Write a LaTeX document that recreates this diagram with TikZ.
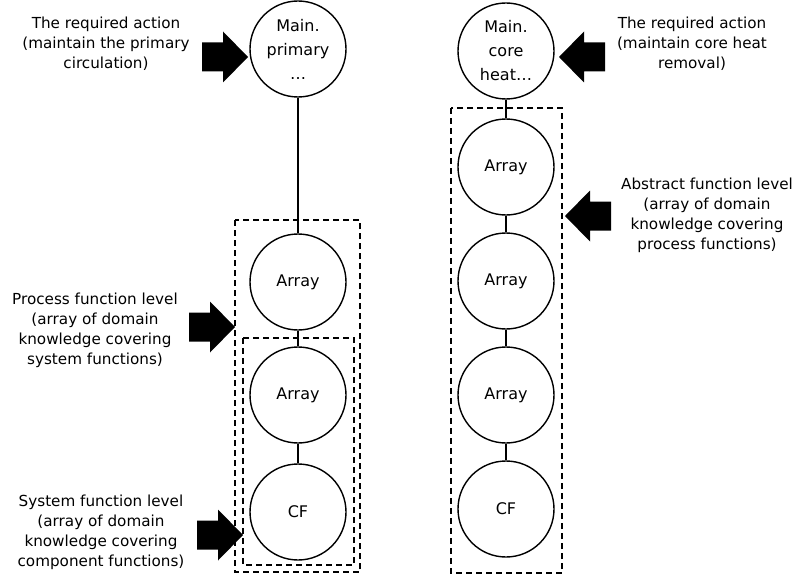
\documentclass[tikz,border=0pt]{standalone}
\usepackage{fontspec}
\setmainfont{DejaVu Sans}
\begin{document}
\begin{tikzpicture}[x=1pt,y=-1pt,
  fn/.style={circle,draw,line width=1.4pt,minimum size=96pt,inner sep=0pt,
             align=center,font=\fontsize{16}{24}\selectfont},
  lbl/.style={align=center,font=\fontsize{15.2}{20}\selectfont},
  level/.style={draw,line width=1.2pt,dash pattern=on 6pt off 4pt},
  link/.style={line width=1.4pt},
  blockarrow/.pic={\fill (0,-14.5) -- (21,-14.5) -- (21,-25.5) -- (46,0)
                   -- (21,25.5) -- (21,14.5) -- (0,14.5) -- cycle;}]
\useasboundingbox (0,0) rectangle (802,575);

% left hierarchy: primary circulation
\node[fn] (lt)  at (298,49)  {Main.\\primary\\\ldots};
\node[fn] (la1) at (298,282) {Array};
\node[fn] (la2) at (298,395) {Array};
\node[fn] (lcf) at (298,512) {CF};
\draw[link] (lt) -- (la1) (la1) -- (la2) (la2) -- (lcf);

% right hierarchy: core heat removal
\node[fn] (rt)  at (506,51)  {Main.\\core\\heat\ldots};
\node[fn] (ra1) at (506,167) {Array};
\node[fn] (ra2) at (506,281) {Array};
\node[fn] (ra3) at (506,395) {Array};
\node[fn] (rcf) at (506,509) {CF};
\draw[link] (rt) -- (ra1) (ra1) -- (ra2) (ra2) -- (ra3) (ra3) -- (rcf);

% function level groupings
\draw[level] (235,220) rectangle (360,572);
\draw[level] (243,338) rectangle (354,565);
\draw[level] (451,108) rectangle (562,573);

% block arrows
\pic at (202,57) {blockarrow};
\pic[xscale=-1] at (605,57) {blockarrow};
\pic at (189,327) {blockarrow};
\pic at (197,535) {blockarrow};
\pic[xscale=-1] at (611,216) {blockarrow};

% annotations
\node[lbl] (t1) at (106,44)  {The required action\\(maintain the primary\\circulation)};
\node[lbl] (t2) at (692,44)  {The required action\\(maintain core heat\\removal)};
\node[lbl] (t3) at (95,330)  {Process function level\\(array of domain\\knowledge covering\\system functions)};
\node[lbl] (t4) at (101,532) {System function level\\(array of domain\\knowledge covering\\component functions)};
\node[lbl] (t5) at (707,215) {Abstract function level\\(array of domain\\knowledge covering\\process functions)};
\end{tikzpicture}
\end{document}
